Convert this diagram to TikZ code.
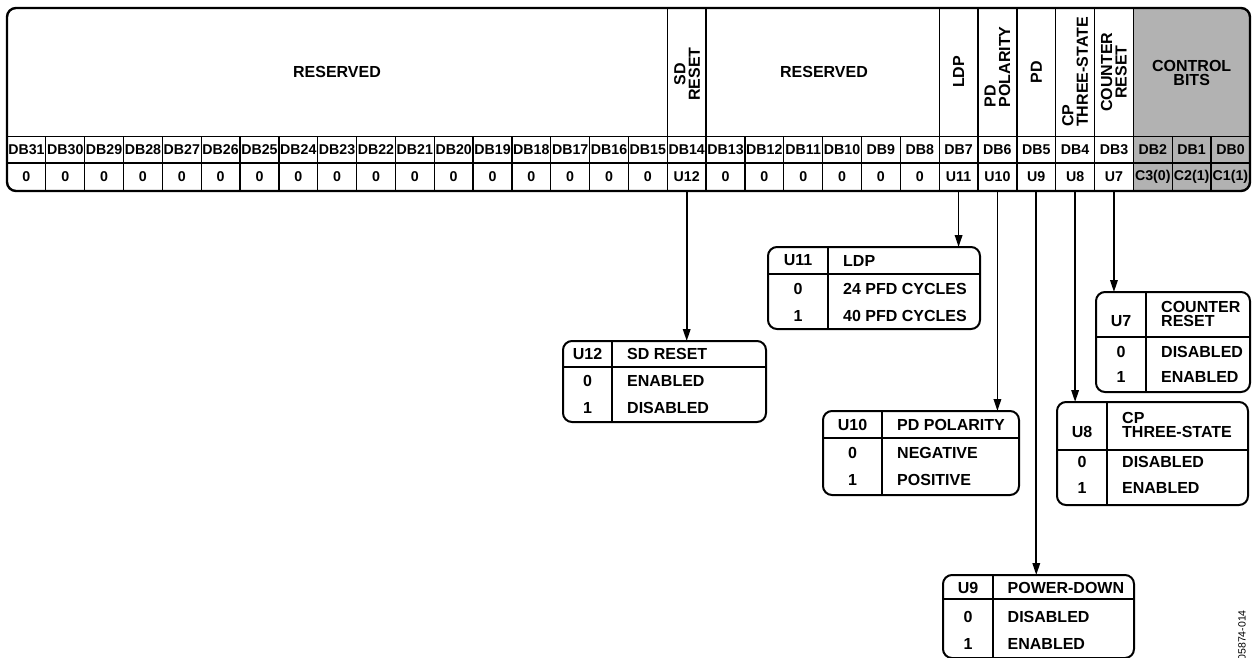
\documentclass[tikz,border=0pt]{standalone}
\usepackage{fontspec}
\setmainfont{Liberation Sans}
\usetikzlibrary{arrows.meta}
\definecolor{ctrlgray}{RGB}{178,178,178}
\begin{document}
\begin{tikzpicture}[x=1pt,y=-1pt,
  outer/.style={line width=2.4pt, rounded corners=9pt},
  innerline/.style={line width=1.3pt},
  tbox/.style={draw, line width=2pt, rounded corners=9pt, inner sep=0pt, outer sep=0pt, anchor=north west},
  tline/.style={line width=1.6pt},
  cell/.style={font=\fontsize{14.2}{14}\selectfont\bfseries, inner sep=0pt},
  hdr/.style={font=\fontsize{16}{14.5}\selectfont\bfseries, inner sep=0pt, align=center},
  rhdr/.style={hdr, rotate=90},
  ttxt/.style={font=\fontsize{16}{14.5}\selectfont\bfseries, inner sep=0pt},
  ttl/.style={ttxt, anchor=west, align=left},
  arr/.style={line width=1.8pt, -{Triangle[length=12pt,width=7.5pt]}}
]
\useasboundingbox (0,0) rectangle (1252,658);

% ---- register ----
\begin{scope}
  \clip[rounded corners=9pt] (7,8) rectangle (1250,191);
  \fill[ctrlgray] (1133.36,8) rectangle (1250,191);
\end{scope}
\draw[innerline] (7,136.5) -- (1250,136.5);
\draw[innerline] (7,163) -- (1250,163);
\foreach \i in {1,...,31} {
  \pgfmathsetmacro\xl{7+38.84*\i}
  \draw[innerline] (\xl,136.5) -- (\xl,191);
}
\foreach \i in {17,18,24,25,26,27,28,29} {
  \pgfmathsetmacro\xl{7+38.84*\i}
  \draw[innerline] (\xl,8) -- (\xl,136.5);
}
\draw[outer] (7,8) rectangle (1250,191);

\foreach \n/\v in {31/0,30/0,29/0,28/0,27/0,26/0,25/0,24/0,23/0,22/0,21/0,20/0,19/0,18/0,17/0,16/0,15/0,14/U12,13/0,12/0,11/0,10/0,9/0,8/0,7/U11,6/U10,5/U9,4/U8,3/U7,2/C3(0),1/C2(1),0/C1(1)} {
  \pgfmathsetmacro\xc{7+38.84*(31.5-\n)}
  \node[cell] (db\n) at (\xc,150) {DB\n};
  \node[cell] (v\n) at (\xc,177) {\v};
  \coordinate (b\n) at (\xc,191);
}

% header labels
\node[hdr] (hres1) at (337,72) {RESERVED};
\node[rhdr] (hsd) at (687,74) {SD\\RESET};
\node[hdr] (hres2) at (824,72) {RESERVED};
\node[rhdr] (hldp) at (958.6,72) {LDP};
\node[rhdr, align=left] (hpdp) at (997.4,67) {PD\\POLARITY};
\node[rhdr] (hpd) at (1036.3,72) {PD};
\node[rhdr, align=left] (hcp) at (1075.1,72) {CP\\THREE-STATE};
\node[rhdr] (hcr) at (1113.9,72) {COUNTER\\RESET};
\node[hdr] (hcb) at (1191.7,73) {CONTROL\\BITS};

% ---- U12 table ----
\node[tbox, minimum width=203pt, minimum height=81pt] (t12) at (563,341) {};
\draw[tline] (563,367) -- (766,367);
\draw[tline] (612,341) -- (612,422);
\node[ttxt] (t12a) at (587.5,354) {U12};
\node[ttl] (t12b) at (627,354) {SD RESET};
\node[ttxt] (t12c) at (587.5,381) {0};
\node[ttl] (t12d) at (627,381) {ENABLED};
\node[ttxt] (t12e) at (587.5,408) {1};
\node[ttl] (t12f) at (627,408) {DISABLED};

% ---- U11 table ----
\node[tbox, minimum width=212pt, minimum height=82pt] (t11) at (768,247) {};
\draw[tline] (768,274) -- (980,274);
\draw[tline] (828,247) -- (828,329);
\node[ttxt] (t11a) at (798,260.5) {U11};
\node[ttl] (t11b) at (843,260.5) {LDP};
\node[ttxt] (t11c) at (798,288.5) {0};
\node[ttl] (t11d) at (843,288.5) {24 PFD CYCLES};
\node[ttxt] (t11e) at (798,316) {1};
\node[ttl] (t11f) at (843,316) {40 PFD CYCLES};

% ---- U10 table ----
\node[tbox, minimum width=196pt, minimum height=84pt] (t10) at (823,411) {};
\draw[tline] (823,438) -- (1019,438);
\draw[tline] (882,411) -- (882,495);
\node[ttxt] (t10a) at (852.5,424.5) {U10};
\node[ttl] (t10b) at (897,424.5) {PD POLARITY};
\node[ttxt] (t10c) at (852.5,452.5) {0};
\node[ttl] (t10d) at (897,452.5) {NEGATIVE};
\node[ttxt] (t10e) at (852.5,480) {1};
\node[ttl] (t10f) at (897,480) {POSITIVE};

% ---- U9 table ----
\node[tbox, minimum width=191pt, minimum height=83pt] (t9) at (943,575) {};
\draw[tline] (943,599) -- (1134,599);
\draw[tline] (993,575) -- (993,658);
\node[ttxt] (t9a) at (968,588) {U9};
\node[ttl] (t9b) at (1007.5,588) {POWER-DOWN};
\node[ttxt] (t9c) at (968,616.5) {0};
\node[ttl] (t9d) at (1007.5,616.5) {DISABLED};
\node[ttxt] (t9e) at (968,643.5) {1};
\node[ttl] (t9f) at (1007.5,643.5) {ENABLED};

% ---- U8 table ----
\node[tbox, minimum width=191pt, minimum height=103pt] (t8) at (1057,402) {};
\draw[tline] (1057,450) -- (1248,450);
\draw[tline] (1107,402) -- (1107,505);
\node[ttxt] (t8a) at (1082,432) {U8};
\node[ttl] (t8b) at (1122,425) {CP\\THREE-STATE};
\node[ttxt] (t8c) at (1082,462) {0};
\node[ttl] (t8d) at (1122,462) {DISABLED};
\node[ttxt] (t8e) at (1082,488) {1};
\node[ttl] (t8f) at (1122,488) {ENABLED};

% ---- U7 table ----
\node[tbox, minimum width=154pt, minimum height=100pt] (t7) at (1096,292) {};
\draw[tline] (1096,337) -- (1250,337);
\draw[tline] (1146,292) -- (1146,392);
\node[ttxt] (t7a) at (1121,321) {U7};
\node[ttl] (t7b) at (1161,314) {COUNTER\\RESET};
\node[ttxt] (t7c) at (1121,352) {0};
\node[ttl] (t7d) at (1161,352) {DISABLED};
\node[ttxt] (t7e) at (1121,377) {1};
\node[ttl] (t7f) at (1161,377) {ENABLED};

% ---- connectors ----
\draw[arr] (b14) -- (b14 |- t12.north);
\draw[arr] (b7) -- (b7 |- t11.north);
\draw[arr] (b6) -- (b6 |- t10.north);
\draw[arr] (b5) -- (b5 |- t9.north);
\draw[arr] (b4) -- (b4 |- t8.north);
\draw[arr] (b3) -- (b3 |- t7.north);

% figure code
\node[rotate=90, anchor=east, font=\fontsize{10.5}{12}\selectfont, inner sep=0pt] (fig) at (1242,610) {05874-014};
\end{tikzpicture}
\end{document}
